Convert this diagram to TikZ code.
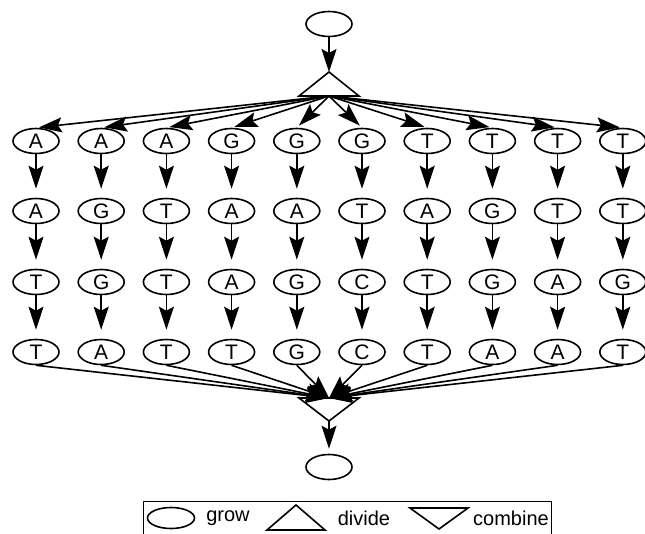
\documentclass[tikz,border=0pt]{standalone}
\usepackage{fontspec}
\setmainfont{Liberation Sans}
\usetikzlibrary{shapes.geometric, arrows.meta}

\begin{document}
\begin{tikzpicture}[
    x=1pt, y=-1pt,
    font=\fontsize{20}{24}\selectfont,
    >={Stealth[length=23pt, width=15pt, inset=4pt]},
    cell/.style={
        draw,
        ellipse,
        line width=1.6pt,
        minimum width=46pt,
        minimum height=25pt,
        inner sep=0pt,
        font=\fontsize{21}{24}\selectfont
    },
    arrow/.style={->, line width=1.6pt},
    tri/.style={draw, line width=1.6pt, line join=miter}
]
\useasboundingbox (0,0) rectangle (645,533);

% start and divide step
\node[cell] (start) at (329,24) {};
\coordinate (divtop) at (329,72);
\coordinate (div) at (329,96);
\draw[tri] (divtop) -- (359,96) -- (299,96) -- cycle;
\draw[arrow] (start) -- (divtop);

% combine step and result
\coordinate (comb) at (329,398);
\coordinate (combbot) at (329,421);
\draw[tri] (299,398) -- (359,398) -- (combbot) -- cycle;
\node[cell] (finish) at (329,467) {};
\draw[arrow, shorten >=5pt] (combbot) -- (finish);

% one column per grown sequence
\foreach \a/\b/\c/\d [count=\i] in {A/A/T/T, A/G/G/A, A/T/T/T, G/A/A/T, G/A/G/G,
                                     G/T/C/C, T/A/T/T, T/G/G/A, T/T/A/A, T/T/G/T} {
    \pgfmathsetmacro\cx{36+65.2*(\i-1)}
    \node[cell] (r1c\i) at (\cx,141) {\a};
    \node[cell] (r2c\i) at (\cx,211) {\b};
    \node[cell] (r3c\i) at (\cx,282) {\c};
    \node[cell] (r4c\i) at (\cx,352) {\d};
    \draw[arrow, shorten >=3pt] (div) -- (r1c\i.north);
    \draw[arrow, shorten >=9pt] (r1c\i) -- (r2c\i);
    \draw[arrow, shorten >=9pt] (r2c\i) -- (r3c\i);
    \draw[arrow, shorten >=9pt] (r3c\i) -- (r4c\i);
    \draw[arrow] (r4c\i.south) -- (comb);
}

% legend
\draw[line width=0.8pt] (143,501) rectangle (551,545);
\node[cell, minimum width=47pt, minimum height=21pt] (keycell) at (171,518) {};
\node (txtgrow) at (228,518) {grow};
\draw[tri] (267,530) -- (296,505) -- (325,530) -- cycle;
\node (txtdivide) at (364,518) {divide};
\draw[tri] (410,508) -- (468,508) -- (439,529) -- cycle;
\node (txtcombine) at (511,518) {combine};

\end{tikzpicture}
\end{document}
